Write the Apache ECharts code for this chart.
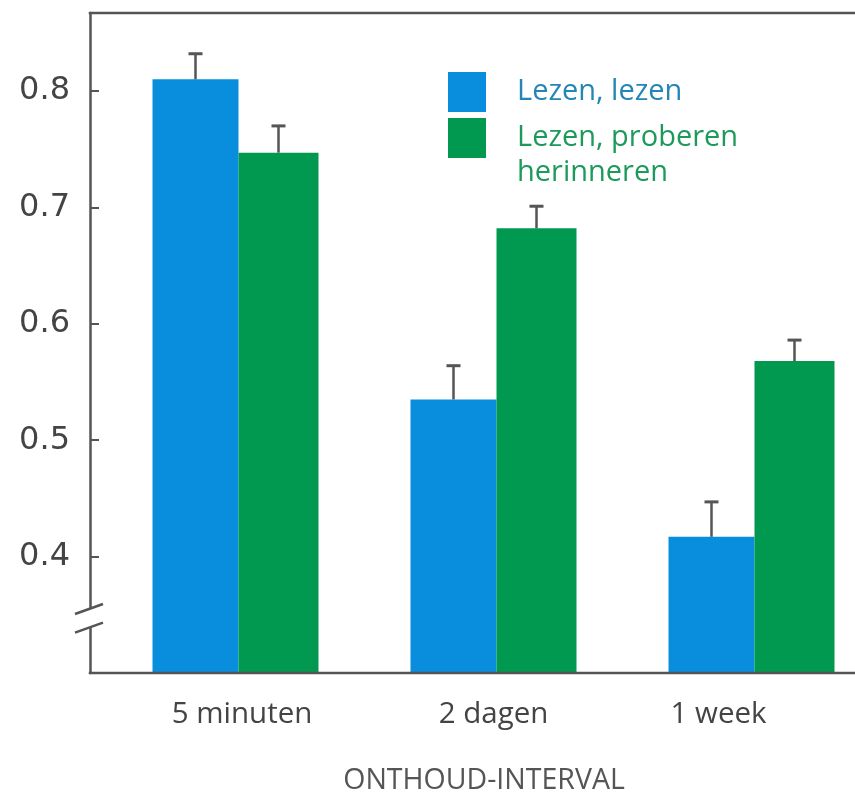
<!DOCTYPE html>
<html>
<head>
<meta charset="utf-8">
<script src="https://cdn.jsdelivr.net/npm/echarts@6/dist/echarts.min.js"></script>
<style>
  html, body { margin: 0; padding: 0; background: #ffffff; }
  #chart { width: 855px; height: 796px; }
</style>
</head>
<body>
<div id="chart"></div>
<script>
// ---- data ----
const categories = ['5 minuten', '2 dagen', '1 week'];
const seriesNames = ['Lezen, lezen', 'Lezen, proberen herinneren'];
const readRead = [0.810, 0.535, 0.417];
const readReadErr = [0.022, 0.029, 0.030];
const readRecall = [0.747, 0.682, 0.568];
const readRecallErr = [0.023, 0.019, 0.018];
const yTickLabels = [0.4, 0.5, 0.6, 0.7, 0.8];
const xTitle = 'ONTHOUD-INTERVAL';

// ---- layout / style constants ----
const Y_MIN = 0.3, Y_MAX = 0.867, Y_INTERVAL = 0.1;
const GRID_LEFT = 106.5, Y_OFFSET = 16.5, GRID_TOP = 13, GRID_BOTTOM = 123, GRID_RIGHT = -25.5;
const BLUE = '#098ede', GREEN = '#00994f';
const BLUE_TEXT = '#2386b5', GREEN_TEXT = '#1d9a5b';
const AXIS = '#555555';
const W_BLUE = 86, W_GREEN = 80;
const OFF_BLUE = -W_GREEN / 2, OFF_GREEN = W_BLUE / 2;
const BREAK_HI = 0.355, BREAK_LO = 0.339;
const SANS = "'Open Sans'";
const CAT_FS = 29.5, LEG_FS = 29;

const chart = echarts.init(document.getElementById('chart'));

function errRender(offset) {
  return function (params, api) {
    const idx = api.value(0), v = api.value(1), e = api.value(2);
    const p0 = api.coord([idx, v]);
    const p1 = api.coord([idx, v + e]);
    const x = p0[0] + offset;
    return {
      type: 'group',
      children: [
        { type: 'line', shape: { x1: x, y1: p0[1], x2: x, y2: p1[1] }, style: { stroke: AXIS, lineWidth: 2.5 } },
        { type: 'line', shape: { x1: x - 7, y1: p1[1], x2: x + 7, y2: p1[1] }, style: { stroke: AXIS, lineWidth: 3 } }
      ]
    };
  };
}

const option = {
  animation: false,
  backgroundColor: '#ffffff',
  grid: { left: GRID_LEFT, right: GRID_RIGHT, top: GRID_TOP, bottom: GRID_BOTTOM, containLabel: false, outerBoundsMode: 'none' },
  legend: {
    orient: 'vertical',
    left: 448, top: 72,
    padding: 0,
    itemWidth: 38, itemHeight: 40, itemGap: 6,
    icon: 'rect',
    data: [
      { name: seriesNames[0], textStyle: { color: BLUE_TEXT } },
      { name: seriesNames[1], textStyle: { color: GREEN_TEXT } }
    ],
    formatter: function (name) { return name === seriesNames[1] ? 'Lezen, proberen' : name; },
    textStyle: { fontFamily: SANS, fontSize: LEG_FS, padding: [0, 0, 0, 26] },
    selectedMode: false
  },
  xAxis: {
    type: 'category',
    data: categories,
    axisLine: { show: false },
    axisTick: { show: false },
    axisLabel: {
      margin: 27,
      color: '#444',
      fontFamily: SANS,
      fontSize: CAT_FS,
      formatter: function (v, i) { return ['{a|', '{b|', '{c|'][i] + v + '}'; },
      rich: {
        a: { fontFamily: SANS, fontSize: CAT_FS, color: '#444', padding: [0, 0, 0, 13] },
        b: { fontFamily: SANS, fontSize: CAT_FS, color: '#444' },
        c: { fontFamily: SANS, fontSize: CAT_FS, color: '#444', padding: [0, 66, 0, 0] }
      }
    },
    name: xTitle,
    nameLocation: 'middle',
    nameGap: 93,
    nameTextStyle: { fontFamily: SANS, fontSize: 28.5, color: '#555', padding: [0, 19, 0, 0] }
  },
  yAxis: {
    type: 'value',
    min: Y_MIN, max: Y_MAX, interval: Y_INTERVAL,
    offset: Y_OFFSET,
    axisLine: { show: true, lineStyle: { color: AXIS, width: 2.5 } },
    axisTick: { show: true, inside: true, length: 9, lineStyle: { color: AXIS, width: 2 } },
    splitLine: { show: false },
    axisLabel: {
      margin: 20,
      color: '#444',
      fontFamily: 'DejaVu Sans',
      fontSize: 32,
      formatter: function (v) {
        const hit = yTickLabels.find(t => Math.abs(t - v) < 1e-6);
        return hit === undefined ? '' : hit.toFixed(1);
      }
    }
  },
  series: [
    { name: seriesNames[0], type: 'bar', data: readRead, barWidth: W_BLUE, barGap: '0%', itemStyle: { color: BLUE } },
    { name: seriesNames[1], type: 'bar', data: readRecall, barWidth: W_GREEN, barGap: '0%', itemStyle: { color: GREEN } },
    { type: 'custom', z: 5, renderItem: errRender(OFF_BLUE), data: readRead.map((v, i) => [i, v, readReadErr[i]]), silent: true },
    { type: 'custom', z: 5, renderItem: errRender(OFF_GREEN), data: readRecall.map((v, i) => [i, v, readRecallErr[i]]), silent: true }
  ]
};
chart.setOption(option);

// ---- frame decorations (top & bottom lines, axis break, extra legend line) ----
const x0 = GRID_LEFT - Y_OFFSET;
const yTop = chart.convertToPixel({ yAxisIndex: 0 }, Y_MAX);
const yBot = chart.convertToPixel({ yAxisIndex: 0 }, Y_MIN);
const yHi = chart.convertToPixel({ yAxisIndex: 0 }, BREAK_HI);
const yLo = chart.convertToPixel({ yAxisIndex: 0 }, BREAK_LO);
const W = chart.getWidth();
chart.setOption({
  graphic: [
    { type: 'line', z: 10, shape: { x1: x0 - 1.25, y1: yTop, x2: W, y2: yTop }, style: { stroke: AXIS, lineWidth: 2.5 } },
    { type: 'line', z: 10, shape: { x1: x0 - 1.25, y1: yBot, x2: W, y2: yBot }, style: { stroke: AXIS, lineWidth: 2.5 } },
    { type: 'rect', z: 10, shape: { x: x0 - 4, y: yHi, width: 8, height: yLo - yHi }, style: { fill: '#ffffff' } },
    { type: 'line', z: 11, shape: { x1: x0 - 15, y1: yHi + 5, x2: x0 + 13, y2: yHi - 5 }, style: { stroke: AXIS, lineWidth: 2.5 } },
    { type: 'line', z: 11, shape: { x1: x0 - 15, y1: yLo + 5, x2: x0 + 13, y2: yLo - 5 }, style: { stroke: AXIS, lineWidth: 2.5 } },
    { type: 'text', z: 10, style: { text: 'herinneren', x: 517, y: 173, verticalAlign: 'middle', font: LEG_FS + "px 'Open Sans'", fill: GREEN_TEXT } }
  ]
});
</script>
</body>
</html>
